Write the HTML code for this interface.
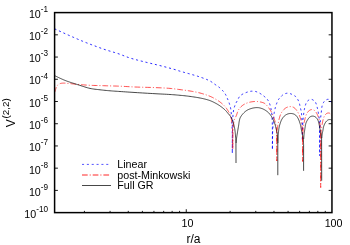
<!DOCTYPE html>
<html><head><meta charset="utf-8"><title>plot</title>
<style>html,body{margin:0;padding:0;background:#fff;}body{width:350px;height:245px;position:relative;overflow:hidden;font-family:"Liberation Sans",sans-serif;}</style>
</head><body>
<svg width="350" height="245" viewBox="0 0 350 245" style="position:absolute;left:0;top:0">
<rect width="350" height="245" fill="#fff"/>
<clipPath id="c"><rect x="54.6" y="12.6" width="277.34999999999997" height="200.02"/></clipPath>
<path d="M54.6 34.82h3.3M331.95 34.82h-3.3M54.6 57.05h3.3M331.95 57.05h-3.3M54.6 79.27h3.3M331.95 79.27h-3.3M54.6 101.50h3.3M331.95 101.50h-3.3M54.6 123.72h3.3M331.95 123.72h-3.3M54.6 145.95h3.3M331.95 145.95h-3.3M54.6 168.17h3.3M331.95 168.17h-3.3M54.6 190.40h3.3M331.95 190.40h-3.3M84.41 212.62v-1.75M110.07 212.62v-1.75M128.27 212.62v-1.75M142.39 212.62v-1.75M153.93 212.62v-1.75M163.68 212.62v-1.75M172.13 212.62v-1.75M179.58 212.62v-1.75M230.11 212.62v-1.75M255.77 212.62v-1.75M273.97 212.62v-1.75M288.09 212.62v-1.75M299.63 212.62v-1.75M309.38 212.62v-1.75M317.83 212.62v-1.75M325.28 212.62v-1.75M186.25 212.62v-3.4" stroke="#000" stroke-width="0.9" fill="none"/>
<g clip-path="url(#c)" fill="none" stroke-linejoin="round">
<path d="M55.00 29.00L56.25 29.58L57.50 30.15L58.75 30.73L60.00 31.31L61.25 31.89L62.50 32.46L63.75 33.03L65.00 33.60L66.25 34.16L67.50 34.72L68.75 35.27L70.00 35.82L71.25 36.37L72.50 36.92L73.75 37.46L75.00 38.00L76.25 38.54L77.50 39.07L78.74 39.60L79.99 40.13L81.24 40.66L82.49 41.18L83.75 41.69L85.00 42.20L86.25 42.69L87.49 43.18L88.74 43.66L89.99 44.13L91.24 44.61L92.50 45.07L93.75 45.54L95.00 46.00L96.24 46.46L97.46 46.91L98.69 47.37L99.91 47.82L101.15 48.26L102.40 48.71L103.68 49.15L105.00 49.60L106.54 50.10L108.14 50.59L109.77 51.08L111.43 51.57L113.09 52.06L114.75 52.56L116.39 53.07L118.00 53.60L119.52 54.13L121.01 54.68L122.48 55.24L123.94 55.81L125.41 56.38L126.91 56.94L128.43 57.48L130.00 58.00L131.79 58.55L133.62 59.07L135.49 59.58L137.38 60.08L139.29 60.57L141.20 61.05L143.11 61.52L145.00 62.00L146.87 62.47L148.75 62.92L150.62 63.36L152.50 63.80L154.38 64.24L156.25 64.68L158.13 65.13L160.00 65.60L161.93 66.09L163.94 66.61L165.98 67.14L168.01 67.67L169.97 68.20L171.82 68.70L173.51 69.17L175.00 69.60L175.74 69.82L176.40 70.03L177.00 70.22L177.56 70.41L178.12 70.60L178.69 70.79L179.31 70.99L180.00 71.20L181.08 71.52L182.26 71.85L183.50 72.19L184.78 72.55L186.10 72.91L187.42 73.27L188.73 73.64L190.00 74.00L191.25 74.36L192.51 74.71L193.76 75.07L195.01 75.43L196.26 75.80L197.51 76.18L198.76 76.58L200.00 77.00L201.28 77.45L202.60 77.92L203.93 78.40L205.25 78.90L206.54 79.41L207.77 79.93L208.93 80.46L210.00 81.00L210.73 81.41L211.40 81.82L212.03 82.24L212.64 82.67L213.22 83.10L213.80 83.53L214.39 83.96L215.00 84.40L215.63 84.83L216.26 85.26L216.90 85.68L217.53 86.10L218.16 86.54L218.78 87.00L219.40 87.48L220.00 88.00L220.66 88.61L221.33 89.26L222.00 89.93L222.66 90.63L223.29 91.35L223.90 92.09L224.47 92.84L225.00 93.60L225.47 94.36L225.91 95.17L226.31 95.99L226.69 96.83L227.04 97.66L227.38 98.48L227.70 99.26L228.00 100.00L228.22 100.54L228.43 101.05L228.63 101.55L228.82 102.03L229.00 102.51L229.17 102.99L229.33 103.49L229.50 104.00L229.67 104.56L229.84 105.11L230.00 105.66L230.15 106.23L230.30 106.81L230.44 107.41L230.57 108.04L230.70 108.70L230.85 109.64L230.99 110.65L231.11 111.71L231.23 112.80L231.33 113.92L231.42 115.05L231.51 116.18L231.60 117.30L231.69 118.49L231.76 119.70L231.83 120.93L231.90 122.17L231.95 123.40L232.01 124.63L232.05 125.83L232.10 127.00L232.14 128.04L232.17 129.05L232.19 130.06L232.22 131.05L232.24 132.03L232.26 133.02L232.28 134.01L232.30 135.00L232.30 153.30L232.40 135.00L232.42 134.02L232.44 133.06L232.46 132.11L232.48 131.16L232.51 130.18L232.53 129.18L232.56 128.12L232.60 127.00L232.65 125.31L232.69 123.44L232.73 121.45L232.78 119.41L232.86 117.38L232.96 115.43L233.11 113.61L233.30 112.00L233.46 111.02L233.63 110.10L233.81 109.23L234.01 108.41L234.23 107.61L234.47 106.83L234.72 106.07L235.00 105.30L235.28 104.60L235.58 103.92L235.90 103.26L236.23 102.60L236.57 101.96L236.92 101.33L237.26 100.71L237.60 100.10L237.89 99.54L238.17 98.98L238.44 98.42L238.72 97.88L239.01 97.34L239.33 96.83L239.69 96.35L240.10 95.90L240.60 95.45L241.16 95.03L241.76 94.63L242.39 94.27L243.04 93.92L243.70 93.60L244.36 93.29L245.00 93.00L245.62 92.73L246.26 92.48L246.91 92.25L247.56 92.03L248.20 91.84L248.83 91.67L249.43 91.52L250.00 91.40L250.41 91.33L250.80 91.27L251.17 91.23L251.54 91.21L251.91 91.19L252.27 91.19L252.63 91.19L253.00 91.20L253.37 91.21L253.74 91.23L254.11 91.26L254.48 91.30L254.85 91.35L255.23 91.42L255.61 91.50L256.00 91.60L256.48 91.75L256.96 91.92L257.46 92.11L257.96 92.33L258.46 92.57L258.97 92.83L259.48 93.11L260.00 93.40L260.66 93.80L261.35 94.25L262.05 94.74L262.76 95.25L263.46 95.78L264.12 96.30L264.74 96.82L265.30 97.30L265.68 97.64L266.03 97.96L266.36 98.28L266.67 98.59L266.96 98.92L267.25 99.25L267.53 99.61L267.80 100.00L268.11 100.49L268.40 101.00L268.68 101.54L268.95 102.10L269.20 102.68L269.45 103.27L269.68 103.88L269.90 104.50L270.14 105.24L270.36 106.01L270.57 106.81L270.77 107.62L270.95 108.45L271.11 109.28L271.26 110.10L271.40 110.90L271.52 111.66L271.62 112.42L271.70 113.17L271.77 113.93L271.83 114.68L271.89 115.45L271.95 116.22L272.00 117.00L272.06 117.85L272.10 118.70L272.15 119.57L272.18 120.44L272.22 121.32L272.25 122.21L272.27 123.10L272.30 124.00L272.32 124.97L272.34 125.96L272.35 126.96L272.36 127.97L272.37 128.98L272.38 129.99L272.39 131.00L272.40 132.00L272.40 149.70L272.60 132.00L272.66 131.01L272.72 130.02L272.77 129.04L272.83 128.06L272.89 127.07L272.95 126.07L273.02 125.05L273.10 124.00L273.20 122.74L273.32 121.38L273.44 119.99L273.57 118.58L273.70 117.21L273.84 115.91L273.97 114.73L274.10 113.70L274.17 113.19L274.24 112.73L274.31 112.31L274.37 111.91L274.45 111.53L274.52 111.14L274.61 110.74L274.70 110.30L274.82 109.76L274.95 109.20L275.08 108.64L275.22 108.06L275.37 107.48L275.54 106.89L275.71 106.29L275.90 105.70L276.13 105.02L276.37 104.30L276.63 103.58L276.90 102.85L277.19 102.13L277.48 101.44L277.79 100.79L278.10 100.20L278.35 99.78L278.60 99.38L278.85 99.02L279.11 98.66L279.39 98.32L279.67 97.99L279.98 97.65L280.30 97.30L280.71 96.87L281.14 96.43L281.59 95.98L282.07 95.54L282.56 95.12L283.06 94.73L283.58 94.39L284.10 94.10L284.60 93.87L285.13 93.67L285.66 93.51L286.21 93.37L286.76 93.27L287.31 93.21L287.86 93.18L288.40 93.20L288.95 93.27L289.50 93.40L290.05 93.58L290.60 93.79L291.14 94.03L291.68 94.29L292.20 94.55L292.70 94.80L293.16 95.03L293.61 95.26L294.06 95.49L294.49 95.74L294.92 96.01L295.33 96.30L295.72 96.63L296.10 97.00L296.54 97.51L296.96 98.09L297.36 98.72L297.74 99.38L298.10 100.07L298.43 100.76L298.73 101.44L299.00 102.10L299.21 102.67L299.37 103.24L299.52 103.81L299.64 104.38L299.75 104.95L299.86 105.53L299.97 106.11L300.10 106.70L300.25 107.34L300.41 107.97L300.57 108.61L300.73 109.25L300.89 109.91L301.04 110.58L301.18 111.28L301.30 112.00L301.43 112.92L301.54 113.88L301.64 114.87L301.73 115.89L301.80 116.92L301.87 117.96L301.94 118.99L302.00 120.00L302.06 121.00L302.10 122.00L302.14 123.00L302.17 124.00L302.21 125.00L302.23 126.00L302.27 127.00L302.30 128.00L302.40 140.70L302.60 128.00L302.65 127.00L302.69 126.01L302.72 125.02L302.76 124.03L302.81 123.03L302.86 122.03L302.92 121.02L303.00 120.00L303.10 118.88L303.21 117.73L303.34 116.56L303.48 115.39L303.62 114.23L303.77 113.10L303.93 112.02L304.10 111.00L304.23 110.25L304.36 109.53L304.49 108.83L304.63 108.15L304.78 107.49L304.94 106.85L305.11 106.22L305.30 105.60L305.47 105.05L305.63 104.51L305.80 103.97L305.98 103.44L306.18 102.94L306.41 102.46L306.68 102.01L307.00 101.60L307.39 101.19L307.84 100.79L308.33 100.40L308.86 100.05L309.40 99.74L309.95 99.51L310.48 99.35L311.00 99.30L311.52 99.35L312.05 99.51L312.60 99.74L313.14 100.05L313.67 100.40L314.16 100.79L314.61 101.19L315.00 101.60L315.32 102.01L315.59 102.47L315.82 102.95L316.02 103.46L316.20 103.98L316.37 104.52L316.53 105.06L316.70 105.60L316.88 106.18L317.05 106.76L317.21 107.34L317.35 107.94L317.49 108.56L317.63 109.18L317.76 109.83L317.90 110.50L318.07 111.35L318.24 112.23L318.40 113.14L318.56 114.08L318.72 115.03L318.86 116.01L318.99 117.00L319.10 118.00L319.21 119.18L319.29 120.40L319.36 121.64L319.41 122.91L319.45 124.18L319.50 125.47L319.54 126.74L319.60 128.00L319.70 155.70L319.90 130.00L319.95 129.01L319.99 128.02L320.03 127.04L320.07 126.05L320.12 125.06L320.17 124.06L320.23 123.04L320.30 122.00L320.39 120.79L320.50 119.53L320.62 118.25L320.74 116.96L320.87 115.67L321.01 114.40L321.15 113.17L321.30 112.00L321.41 111.05L321.51 110.11L321.61 109.18L321.71 108.28L321.84 107.40L321.98 106.56L322.17 105.76L322.40 105.00L322.62 104.41L322.85 103.84L323.10 103.29L323.38 102.77L323.67 102.27L323.99 101.81L324.33 101.38L324.70 101.00L325.07 100.67L325.49 100.36L325.93 100.06L326.39 99.80L326.85 99.58L327.30 99.42L327.72 99.32L328.10 99.30L328.36 99.34L328.60 99.44L328.84 99.57L329.06 99.73L329.28 99.91L329.49 100.11L329.69 100.31L329.90 100.50L330.12 100.72L330.33 100.95L330.53 101.20L330.72 101.45L330.92 101.72L331.11 101.98L331.30 102.25L331.50 102.50" stroke="#0000ff" stroke-width="0.85" stroke-dasharray="2.05 2.8" stroke-dashoffset="0.5"/>
<path d="M55.00 91.80L55.07 91.51L55.15 91.22L55.22 90.94L55.29 90.65L55.37 90.36L55.44 90.07L55.52 89.79L55.60 89.50L55.68 89.21L55.76 88.91L55.84 88.61L55.92 88.32L56.01 88.03L56.10 87.74L56.19 87.46L56.30 87.20L56.40 86.98L56.50 86.76L56.60 86.56L56.71 86.35L56.82 86.16L56.94 85.96L57.07 85.78L57.20 85.60L57.34 85.43L57.49 85.27L57.64 85.11L57.80 84.96L57.97 84.81L58.14 84.67L58.32 84.53L58.50 84.40L58.70 84.27L58.90 84.14L59.11 84.01L59.33 83.89L59.55 83.78L59.79 83.68L60.04 83.59L60.30 83.50L60.67 83.40L61.06 83.32L61.47 83.26L61.90 83.21L62.34 83.17L62.79 83.14L63.25 83.11L63.70 83.10L64.21 83.10L64.73 83.12L65.26 83.15L65.80 83.19L66.34 83.24L66.89 83.30L67.45 83.35L68.00 83.40L68.59 83.45L69.18 83.51L69.77 83.57L70.37 83.63L70.98 83.70L71.60 83.77L72.24 83.83L72.90 83.90L73.72 83.98L74.55 84.07L75.41 84.16L76.29 84.25L77.19 84.34L78.11 84.43L79.05 84.52L80.00 84.60L81.17 84.70L82.38 84.79L83.62 84.89L84.89 84.98L86.17 85.07L87.46 85.16L88.74 85.23L90.00 85.30L91.25 85.36L92.50 85.40L93.75 85.44L95.00 85.47L96.25 85.51L97.50 85.53L98.75 85.57L100.00 85.60L101.25 85.64L102.50 85.67L103.75 85.71L105.00 85.75L106.25 85.79L107.50 85.82L108.75 85.86L110.00 85.90L111.24 85.94L112.45 85.97L113.66 86.00L114.87 86.03L116.10 86.06L117.36 86.10L118.65 86.15L120.00 86.20L121.72 86.28L123.49 86.37L125.31 86.48L127.18 86.59L129.08 86.70L131.03 86.81L133.00 86.91L135.00 87.00L137.38 87.09L139.86 87.17L142.42 87.24L145.00 87.30L147.58 87.36L150.14 87.43L152.62 87.51L155.00 87.60L157.00 87.68L158.97 87.76L160.92 87.85L162.83 87.94L164.69 88.03L166.52 88.14L168.29 88.26L170.00 88.40L171.35 88.53L172.64 88.66L173.90 88.81L175.13 88.96L176.34 89.11L177.55 89.27L178.76 89.44L180.00 89.60L181.25 89.76L182.50 89.92L183.75 90.08L185.00 90.25L186.25 90.42L187.50 90.60L188.75 90.80L190.00 91.00L191.25 91.21L192.51 91.43L193.76 91.65L195.01 91.89L196.26 92.13L197.51 92.40L198.76 92.69L200.00 93.00L201.28 93.35L202.60 93.73L203.92 94.14L205.24 94.56L206.52 95.00L207.76 95.43L208.92 95.87L210.00 96.30L210.72 96.60L211.39 96.91L212.02 97.21L212.63 97.51L213.22 97.82L213.81 98.13L214.40 98.46L215.00 98.80L215.63 99.16L216.27 99.53L216.90 99.91L217.53 100.30L218.15 100.70L218.77 101.12L219.39 101.55L220.00 102.00L220.66 102.51L221.33 103.06L222.00 103.63L222.66 104.21L223.30 104.80L223.91 105.38L224.48 105.95L225.00 106.50L225.35 106.89L225.67 107.27L225.96 107.64L226.23 108.01L226.50 108.38L226.76 108.77L227.02 109.17L227.30 109.60L227.65 110.15L228.01 110.72L228.37 111.32L228.73 111.94L229.08 112.57L229.41 113.21L229.72 113.85L230.00 114.50L230.25 115.15L230.48 115.81L230.68 116.47L230.87 117.14L231.04 117.83L231.20 118.53L231.35 119.25L231.50 120.00L231.66 120.93L231.81 121.90L231.93 122.91L232.05 123.93L232.15 124.97L232.24 126.00L232.32 127.01L232.40 128.00L232.46 128.90L232.51 129.78L232.55 130.66L232.58 131.53L232.61 132.39L232.64 133.26L232.67 134.13L232.70 135.00L232.80 149.00L232.90 135.00L232.95 134.13L232.99 133.25L233.03 132.38L233.08 131.51L233.12 130.63L233.17 129.76L233.23 128.88L233.30 128.00L233.37 127.08L233.43 126.15L233.49 125.21L233.56 124.26L233.65 123.33L233.76 122.42L233.91 121.54L234.10 120.70L234.31 120.01L234.55 119.36L234.82 118.73L235.11 118.11L235.41 117.50L235.71 116.88L236.01 116.25L236.30 115.60L236.60 114.84L236.88 114.05L237.15 113.24L237.43 112.43L237.73 111.62L238.05 110.84L238.40 110.09L238.80 109.40L239.21 108.80L239.64 108.23L240.10 107.68L240.58 107.16L241.08 106.66L241.60 106.18L242.14 105.73L242.70 105.30L243.28 104.89L243.89 104.51L244.51 104.15L245.16 103.81L245.82 103.50L246.50 103.21L247.19 102.95L247.90 102.70L248.70 102.46L249.54 102.24L250.40 102.05L251.28 101.88L252.16 101.75L253.03 101.64L253.88 101.55L254.70 101.50L255.40 101.48L256.08 101.48L256.75 101.50L257.42 101.54L258.08 101.60L258.72 101.68L259.37 101.78L260.00 101.90L260.60 102.02L261.21 102.15L261.81 102.30L262.40 102.46L262.98 102.64L263.55 102.86L264.09 103.11L264.60 103.40L265.09 103.74L265.54 104.11L265.98 104.52L266.40 104.96L266.80 105.43L267.20 105.91L267.60 106.40L268.00 106.90L268.45 107.48L268.90 108.08L269.35 108.71L269.79 109.36L270.22 110.01L270.63 110.68L271.03 111.34L271.40 112.00L271.74 112.62L272.06 113.25L272.36 113.88L272.65 114.51L272.93 115.14L273.19 115.79L273.45 116.44L273.70 117.10L273.95 117.80L274.19 118.52L274.42 119.25L274.64 119.99L274.85 120.72L275.04 121.46L275.23 122.19L275.40 122.90L275.55 123.55L275.68 124.18L275.81 124.81L275.92 125.44L276.03 126.07L276.13 126.70L276.22 127.34L276.30 128.00L276.38 128.72L276.44 129.46L276.49 130.21L276.54 130.97L276.58 131.73L276.61 132.49L276.65 133.25L276.70 134.00L276.80 161.00L276.90 134.00L276.97 133.25L277.04 132.49L277.11 131.73L277.18 130.97L277.25 130.21L277.33 129.46L277.41 128.73L277.50 128.00L277.58 127.35L277.67 126.71L277.76 126.09L277.85 125.47L277.95 124.85L278.05 124.22L278.17 123.57L278.30 122.90L278.47 122.07L278.64 121.21L278.83 120.31L279.03 119.41L279.25 118.51L279.48 117.63L279.73 116.79L280.00 116.00L280.24 115.36L280.49 114.74L280.75 114.14L281.02 113.56L281.31 112.99L281.62 112.45L281.95 111.91L282.30 111.40L282.66 110.91L283.05 110.43L283.45 109.96L283.87 109.51L284.31 109.09L284.76 108.69L285.22 108.32L285.70 108.00L286.16 107.73L286.64 107.48L287.14 107.25L287.65 107.05L288.16 106.88L288.68 106.75L289.19 106.66L289.70 106.60L290.20 106.58L290.72 106.60L291.24 106.65L291.76 106.73L292.28 106.85L292.78 107.00L293.25 107.19L293.70 107.40L294.12 107.66L294.52 107.96L294.90 108.30L295.26 108.67L295.61 109.06L295.95 109.47L296.28 109.88L296.60 110.30L296.93 110.75L297.25 111.23L297.55 111.72L297.84 112.22L298.12 112.74L298.39 113.26L298.65 113.78L298.90 114.30L299.14 114.81L299.36 115.33L299.58 115.86L299.78 116.39L299.98 116.91L300.16 117.44L300.34 117.97L300.50 118.50L300.64 119.00L300.77 119.49L300.89 119.99L301.00 120.48L301.11 120.98L301.21 121.48L301.30 121.99L301.40 122.50L301.50 123.04L301.60 123.59L301.70 124.14L301.79 124.69L301.87 125.25L301.95 125.82L302.03 126.40L302.10 127.00L302.17 127.71L302.23 128.44L302.28 129.19L302.33 129.94L302.37 130.71L302.41 131.48L302.45 132.24L302.50 133.00L302.60 161.50L302.80 133.00L302.87 132.25L302.94 131.51L303.00 130.77L303.06 130.02L303.13 129.28L303.21 128.53L303.30 127.77L303.40 127.00L303.53 126.15L303.66 125.29L303.81 124.41L303.97 123.53L304.14 122.65L304.32 121.78L304.51 120.93L304.70 120.10L304.88 119.35L305.06 118.59L305.25 117.84L305.45 117.10L305.66 116.38L305.88 115.69L306.13 115.02L306.40 114.40L306.64 113.90L306.89 113.42L307.16 112.95L307.44 112.50L307.73 112.08L308.03 111.69L308.36 111.32L308.70 111.00L309.02 110.74L309.37 110.49L309.73 110.26L310.10 110.06L310.47 109.89L310.85 109.75L311.23 109.65L311.60 109.60L311.95 109.59L312.31 109.61L312.68 109.67L313.04 109.77L313.40 109.89L313.75 110.03L314.08 110.21L314.40 110.40L314.74 110.66L315.06 110.96L315.36 111.30L315.65 111.67L315.93 112.06L316.20 112.47L316.45 112.89L316.70 113.30L316.96 113.75L317.20 114.23L317.42 114.72L317.64 115.22L317.84 115.73L318.03 116.25L318.22 116.78L318.40 117.30L318.58 117.85L318.75 118.41L318.92 118.98L319.07 119.55L319.21 120.13L319.35 120.72L319.48 121.31L319.60 121.90L319.72 122.52L319.82 123.14L319.92 123.77L320.01 124.40L320.09 125.04L320.17 125.69L320.24 126.34L320.30 127.00L320.36 127.73L320.41 128.46L320.45 129.21L320.48 129.97L320.51 130.73L320.54 131.49L320.57 132.25L320.60 133.00L320.70 187.60L320.90 135.00L320.95 134.37L320.99 133.74L321.04 133.10L321.08 132.47L321.13 131.84L321.18 131.21L321.24 130.60L321.30 130.00L321.36 129.47L321.43 128.96L321.50 128.46L321.57 127.97L321.64 127.47L321.72 126.96L321.81 126.44L321.90 125.90L322.01 125.22L322.13 124.50L322.25 123.76L322.37 123.01L322.51 122.26L322.66 121.51L322.82 120.79L323.00 120.10L323.17 119.49L323.35 118.88L323.54 118.28L323.73 117.69L323.94 117.12L324.17 116.58L324.43 116.07L324.70 115.60L324.95 115.24L325.21 114.88L325.48 114.55L325.77 114.23L326.07 113.94L326.37 113.69L326.68 113.47L327.00 113.30L327.28 113.19L327.56 113.10L327.86 113.04L328.16 113.00L328.46 112.99L328.76 113.00L329.04 113.04L329.30 113.10L329.54 113.19L329.77 113.32L330.00 113.48L330.22 113.66L330.42 113.85L330.63 114.04L330.82 114.23L331.00 114.40L331.14 114.54L331.28 114.67L331.40 114.81L331.52 114.95L331.64 115.09L331.76 115.22L331.88 115.36L332.00 115.50" stroke="#ff0000" stroke-width="0.68" stroke-dasharray="5.7 2 1 2" stroke-dashoffset="0.8"/>
<path d="M55.00 75.80L55.62 76.10L56.25 76.40L56.87 76.71L57.50 77.01L58.12 77.31L58.75 77.61L59.37 77.91L60.00 78.20L60.62 78.49L61.25 78.77L61.87 79.05L62.49 79.33L63.12 79.61L63.74 79.88L64.37 80.14L65.00 80.40L65.62 80.64L66.24 80.88L66.87 81.11L67.49 81.33L68.12 81.56L68.75 81.77L69.37 81.99L70.00 82.20L70.62 82.41L71.25 82.61L71.87 82.81L72.50 83.01L73.12 83.21L73.75 83.40L74.37 83.60L75.00 83.80L75.61 84.00L76.21 84.19L76.80 84.38L77.39 84.57L78.00 84.77L78.63 84.97L79.29 85.18L80.00 85.40L81.08 85.74L82.25 86.13L83.49 86.53L84.77 86.94L86.09 87.35L87.41 87.74L88.72 88.10L90.00 88.40L91.24 88.65L92.49 88.87L93.74 89.06L94.99 89.22L96.24 89.37L97.49 89.51L98.75 89.65L100.00 89.80L101.25 89.95L102.50 90.08L103.75 90.22L105.00 90.34L106.25 90.46L107.50 90.58L108.75 90.69L110.00 90.80L111.24 90.90L112.45 90.99L113.66 91.08L114.87 91.16L116.10 91.24L117.36 91.32L118.65 91.41L120.00 91.50L121.72 91.62L123.49 91.74L125.31 91.86L127.18 91.99L129.08 92.12L131.03 92.24L133.00 92.37L135.00 92.50L137.38 92.65L139.87 92.80L142.42 92.96L145.00 93.12L147.58 93.27L150.13 93.42L152.62 93.56L155.00 93.70L157.00 93.81L158.97 93.91L160.92 94.01L162.82 94.10L164.69 94.20L166.51 94.29L168.29 94.39L170.00 94.50L171.35 94.59L172.64 94.68L173.90 94.78L175.13 94.87L176.34 94.97L177.55 95.08L178.76 95.18L180.00 95.30L181.25 95.42L182.50 95.54L183.75 95.67L185.00 95.80L186.25 95.94L187.50 96.08L188.75 96.24L190.00 96.40L191.28 96.58L192.58 96.77L193.90 96.97L195.22 97.17L196.51 97.38L197.74 97.59L198.92 97.80L200.00 98.00L200.71 98.14L201.37 98.27L202.01 98.40L202.61 98.53L203.21 98.66L203.79 98.80L204.39 98.94L205.00 99.10L205.63 99.26L206.26 99.43L206.88 99.60L207.51 99.78L208.14 99.97L208.76 100.16L209.38 100.37L210.00 100.60L210.63 100.85L211.26 101.11L211.89 101.38L212.52 101.66L213.14 101.96L213.76 102.26L214.38 102.58L215.00 102.90L215.63 103.24L216.27 103.59L216.90 103.94L217.52 104.31L218.15 104.69L218.77 105.08L219.39 105.48L220.00 105.90L220.65 106.36L221.32 106.85L221.99 107.36L222.65 107.88L223.29 108.40L223.91 108.92L224.48 109.42L225.00 109.90L225.34 110.23L225.65 110.55L225.93 110.86L226.20 111.17L226.46 111.48L226.73 111.81L227.00 112.14L227.30 112.50L227.71 112.98L228.14 113.49L228.59 114.02L229.05 114.57L229.50 115.13L229.93 115.69L230.34 116.25L230.70 116.80L230.99 117.28L231.26 117.76L231.52 118.24L231.75 118.73L231.98 119.21L232.19 119.70L232.40 120.20L232.60 120.70L232.80 121.22L232.98 121.74L233.15 122.27L233.31 122.81L233.47 123.34L233.61 123.89L233.76 124.44L233.90 125.00L234.05 125.60L234.19 126.20L234.32 126.80L234.45 127.42L234.57 128.04L234.69 128.68L234.80 129.33L234.90 130.00L235.01 130.82L235.12 131.68L235.21 132.56L235.30 133.46L235.38 134.36L235.46 135.26L235.53 136.14L235.60 137.00L235.66 137.77L235.71 138.53L235.75 139.28L235.79 140.03L235.83 140.77L235.87 141.51L235.91 142.25L235.95 143.00L236.00 163.00M236.10 143.00L236.16 142.38L236.22 141.76L236.27 141.15L236.33 140.54L236.39 139.92L236.45 139.29L236.52 138.66L236.60 138.00L236.70 137.23L236.82 136.43L236.94 135.62L237.07 134.80L237.20 133.97L237.33 133.14L237.47 132.32L237.60 131.50L237.74 130.67L237.88 129.83L238.03 128.97L238.17 128.13L238.32 127.29L238.46 126.49L238.58 125.72L238.70 125.00L238.77 124.51L238.83 124.05L238.88 123.62L238.94 123.19L238.99 122.78L239.05 122.36L239.12 121.94L239.20 121.50L239.30 121.01L239.40 120.51L239.50 120.01L239.61 119.50L239.74 118.99L239.90 118.49L240.08 117.99L240.30 117.50L240.60 116.94L240.94 116.38L241.32 115.82L241.73 115.26L242.16 114.71L242.61 114.18L243.06 113.68L243.50 113.20L243.90 112.78L244.31 112.38L244.73 111.99L245.15 111.62L245.59 111.27L246.04 110.93L246.51 110.61L247.00 110.30L247.56 109.98L248.16 109.68L248.78 109.40L249.41 109.14L250.06 108.90L250.71 108.68L251.36 108.48L252.00 108.30L252.62 108.14L253.26 108.01L253.90 107.89L254.55 107.79L255.18 107.71L255.81 107.65L256.42 107.61L257.00 107.60L257.47 107.61L257.92 107.63L258.35 107.67L258.78 107.73L259.20 107.80L259.63 107.88L260.06 107.98L260.50 108.10L261.00 108.25L261.51 108.41L262.03 108.59L262.55 108.79L263.06 109.01L263.58 109.26L264.09 109.52L264.60 109.80L265.18 110.15L265.76 110.52L266.35 110.93L266.93 111.36L267.50 111.81L268.06 112.29L268.59 112.78L269.10 113.30L269.61 113.87L270.09 114.48L270.55 115.12L271.00 115.77L271.43 116.45L271.84 117.13L272.23 117.82L272.60 118.50L272.95 119.17L273.28 119.86L273.59 120.57L273.89 121.27L274.16 121.98L274.43 122.67L274.67 123.35L274.90 124.00L275.07 124.52L275.23 125.03L275.37 125.53L275.51 126.02L275.63 126.50L275.75 126.99L275.87 127.49L276.00 128.00L276.14 128.55L276.27 129.10L276.40 129.66L276.54 130.23L276.66 130.80L276.78 131.37L276.90 131.93L277.00 132.50L277.10 133.06L277.19 133.61L277.27 134.16L277.35 134.71L277.42 135.26L277.49 135.83L277.55 136.41L277.60 137.00L277.65 137.71L277.69 138.44L277.71 139.19L277.73 139.94L277.75 140.71L277.76 141.48L277.78 142.24L277.80 143.00L277.80 175.20M277.90 143.00L277.92 142.25L277.94 141.49L277.96 140.73L277.98 139.97L278.01 139.21L278.03 138.46L278.06 137.72L278.10 137.00L278.14 136.35L278.18 135.70L278.23 135.07L278.28 134.44L278.33 133.81L278.38 133.20L278.44 132.59L278.50 132.00L278.55 131.48L278.60 130.97L278.66 130.46L278.71 129.97L278.77 129.48L278.84 128.99L278.91 128.49L279.00 128.00L279.10 127.50L279.20 127.00L279.31 126.50L279.43 126.00L279.56 125.51L279.70 125.01L279.84 124.50L280.00 124.00L280.17 123.45L280.35 122.89L280.54 122.33L280.74 121.77L280.95 121.21L281.18 120.66L281.43 120.12L281.70 119.60L282.00 119.08L282.32 118.56L282.66 118.05L283.02 117.55L283.39 117.07L283.78 116.61L284.19 116.19L284.60 115.80L284.99 115.48L285.39 115.19L285.81 114.91L286.24 114.66L286.68 114.44L287.12 114.23L287.56 114.05L288.00 113.90L288.42 113.78L288.84 113.67L289.26 113.59L289.69 113.53L290.12 113.49L290.55 113.47L290.97 113.47L291.40 113.50L291.84 113.55L292.30 113.63L292.75 113.72L293.20 113.84L293.65 113.99L294.09 114.17L294.50 114.37L294.90 114.60L295.30 114.88L295.69 115.20L296.05 115.55L296.41 115.93L296.75 116.34L297.08 116.77L297.39 117.23L297.70 117.70L298.07 118.34L298.42 119.06L298.76 119.83L299.08 120.63L299.37 121.43L299.64 122.21L299.89 122.94L300.10 123.60L300.22 124.00L300.33 124.37L300.42 124.73L300.50 125.07L300.57 125.40L300.65 125.75L300.72 126.11L300.80 126.50L300.90 127.01L301.00 127.55L301.10 128.11L301.19 128.69L301.29 129.27L301.39 129.85L301.49 130.43L301.60 131.00L301.72 131.57L301.84 132.14L301.97 132.71L302.10 133.29L302.23 133.85L302.36 134.41L302.48 134.96L302.60 135.50L302.70 135.95L302.80 136.38L302.89 136.80L302.99 137.22L303.07 137.63L303.16 138.07L303.23 138.52L303.30 139.00L303.37 139.67L303.42 140.38L303.46 141.13L303.49 141.90L303.52 142.68L303.54 143.46L303.57 144.24L303.60 145.00L303.60 170.80M303.70 139.00L303.75 138.37L303.79 137.74L303.84 137.10L303.88 136.46L303.93 135.83L303.98 135.21L304.04 134.60L304.10 134.00L304.16 133.48L304.23 132.97L304.31 132.48L304.38 131.99L304.46 131.50L304.54 131.01L304.62 130.51L304.70 130.00L304.78 129.44L304.87 128.86L304.95 128.27L305.04 127.68L305.13 127.10L305.22 126.54L305.31 126.00L305.40 125.50L305.47 125.15L305.53 124.83L305.59 124.52L305.65 124.21L305.72 123.92L305.80 123.62L305.89 123.32L306.00 123.00L306.15 122.61L306.32 122.21L306.50 121.80L306.70 121.39L306.91 120.98L307.13 120.58L307.36 120.18L307.60 119.80L307.85 119.42L308.11 119.03L308.37 118.64L308.65 118.26L308.94 117.89L309.25 117.56L309.57 117.26L309.90 117.00L310.22 116.80L310.55 116.62L310.90 116.47L311.25 116.34L311.62 116.23L311.98 116.16L312.34 116.11L312.70 116.10L313.07 116.12L313.44 116.17L313.82 116.26L314.20 116.37L314.57 116.52L314.93 116.69L315.28 116.88L315.60 117.10L315.94 117.38L316.27 117.71L316.58 118.07L316.88 118.46L317.16 118.88L317.42 119.31L317.67 119.75L317.90 120.20L318.13 120.72L318.34 121.28L318.52 121.87L318.68 122.47L318.83 123.07L318.97 123.65L319.09 124.20L319.20 124.70L319.27 125.02L319.33 125.31L319.38 125.59L319.42 125.86L319.46 126.12L319.50 126.40L319.55 126.69L319.60 127.00L319.68 127.45L319.76 127.93L319.84 128.43L319.93 128.95L320.02 129.47L320.11 129.99L320.20 130.51L320.30 131.00L320.40 131.45L320.50 131.89L320.60 132.33L320.71 132.76L320.82 133.20L320.92 133.63L321.01 134.06L321.10 134.50L321.18 134.94L321.25 135.37L321.31 135.81L321.37 136.25L321.43 136.69L321.48 137.12L321.54 137.56L321.60 138.00L321.70 180.70M321.80 138.00L321.85 137.50L321.89 136.99L321.93 136.49L321.98 135.98L322.02 135.48L322.08 134.98L322.13 134.49L322.20 134.00L322.27 133.55L322.35 133.12L322.44 132.69L322.52 132.26L322.62 131.83L322.71 131.40L322.81 130.96L322.90 130.50L323.00 129.96L323.09 129.41L323.18 128.84L323.27 128.26L323.37 127.68L323.49 127.11L323.63 126.55L323.80 126.00L324.00 125.46L324.22 124.90L324.47 124.35L324.73 123.81L325.01 123.29L325.30 122.79L325.60 122.32L325.90 121.90L326.15 121.58L326.41 121.28L326.67 120.99L326.94 120.72L327.22 120.47L327.51 120.25L327.80 120.06L328.10 119.90L328.37 119.79L328.66 119.70L328.96 119.63L329.26 119.59L329.56 119.57L329.85 119.56L330.13 119.57L330.40 119.60L330.62 119.64L330.83 119.71L331.03 119.80L331.22 119.89L331.42 120.00L331.61 120.10L331.80 120.21L332.00 120.30" stroke="#000" stroke-width="0.72"/>
</g>
<path d="M82 164.4H111" stroke="#0000ff" stroke-width="0.68" stroke-dasharray="2.05 2.8" fill="none"/>
<path d="M82 175H111" stroke="#ff0000" stroke-width="0.85" stroke-dasharray="5.7 2 1 2" fill="none"/>
<path d="M82 185.5H111" stroke="#000" stroke-width="0.72" fill="none"/>
<rect x="54.6" y="12.6" width="277.34999999999997" height="200.02" fill="none" stroke="#000" stroke-width="1.5"/>
<g font-family="Liberation Sans, sans-serif" font-size="10.7px" fill="#000" style="filter:grayscale(1)">
<text x="48.1" y="18.20" text-anchor="end">10<tspan font-size="8.2px" dy="-5.85">-1</tspan></text>
<text x="48.1" y="40.12" text-anchor="end">10<tspan font-size="8.2px" dy="-5.85">-2</tspan></text>
<text x="48.1" y="61.95" text-anchor="end">10<tspan font-size="8.2px" dy="-5.85">-3</tspan></text>
<text x="48.1" y="84.37" text-anchor="end">10<tspan font-size="8.2px" dy="-5.85">-4</tspan></text>
<text x="48.1" y="106.70" text-anchor="end">10<tspan font-size="8.2px" dy="-5.85">-5</tspan></text>
<text x="48.1" y="129.32" text-anchor="end">10<tspan font-size="8.2px" dy="-5.85">-6</tspan></text>
<text x="48.1" y="151.15" text-anchor="end">10<tspan font-size="8.2px" dy="-5.85">-7</tspan></text>
<text x="48.1" y="173.57" text-anchor="end">10<tspan font-size="8.2px" dy="-5.85">-8</tspan></text>
<text x="48.1" y="195.60" text-anchor="end">10<tspan font-size="8.2px" dy="-5.85">-9</tspan></text>
<text x="48.1" y="218.22" text-anchor="end">10<tspan font-size="8.2px" dy="-5.85">-10</tspan></text>
<text x="187.45" y="227" text-anchor="middle">10</text>
<text x="333.55" y="227" text-anchor="middle">100</text>
<text x="193.4" y="243.3" text-anchor="middle" font-size="12px">r/a</text>
<text x="117.3" y="168.2">Linear</text>
<text x="117.3" y="178.6">post-Minkowski</text>
<text x="117.3" y="189.2">Full GR</text>
<text transform="translate(15.3 127.3) rotate(-90)" font-size="12px">V<tspan font-size="9.8px" dx="0.8" dy="-6.4">(2,2)</tspan></text>
</g>
</svg>
</body></html>
